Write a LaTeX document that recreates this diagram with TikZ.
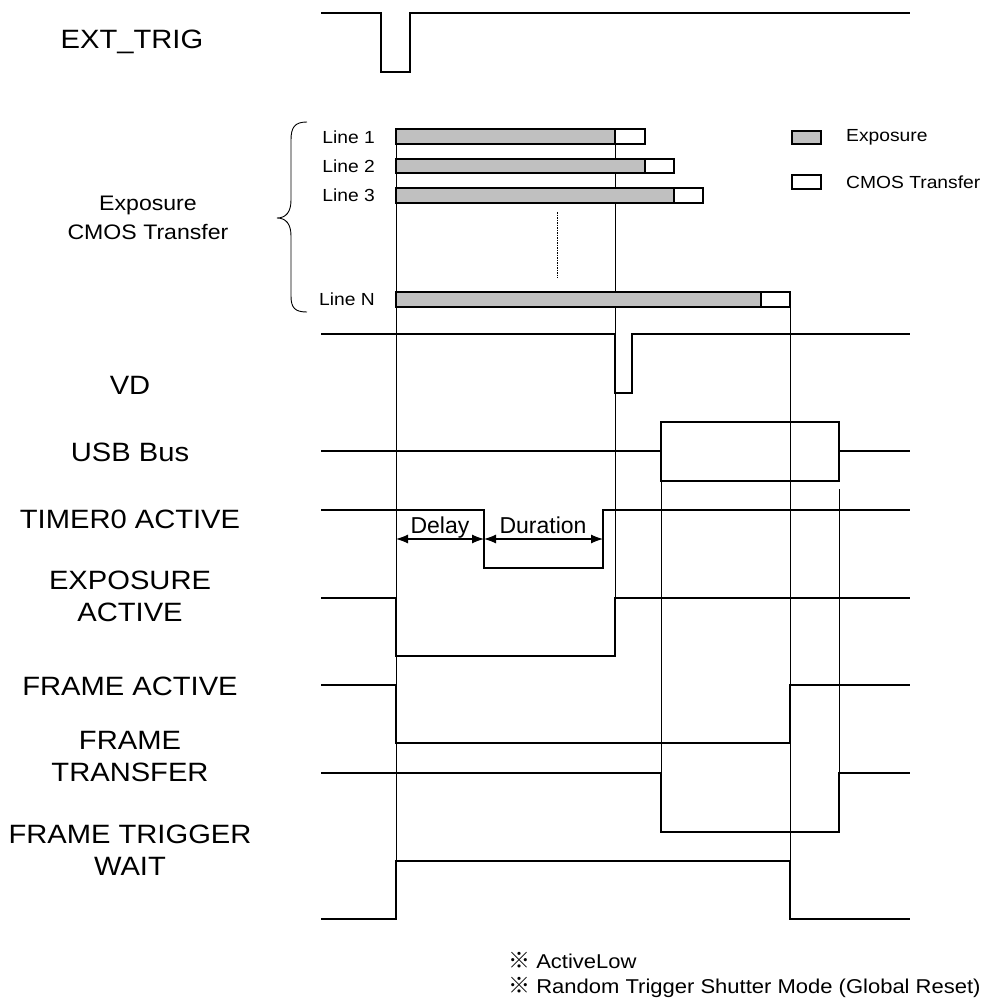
\documentclass[tikz,border=0pt]{standalone}
\usepackage{fontspec}
\setmainfont{Liberation Sans}[FakeStretch=1.1]
\newfontfamily\plainsans{Liberation Sans}
\newfontfamily\cjk{Noto Sans CJK JP}
\usetikzlibrary{arrows.meta}
\definecolor{expgray}{RGB}{192,192,192}

\begin{document}
\begin{tikzpicture}[x=1pt,y=-1pt,line join=miter,
  sig/.style={line width=2.2pt},
  guide/.style={line width=0.9pt},
  bar/.style={line width=1.3pt},
  siglabel/.style={font=\fontsize{26.5}{32}\selectfont,align=center,inner sep=0pt},
  linelabel/.style={font=\fontsize{17.5}{21}\selectfont,inner sep=0pt},
  dim/.style={line width=1.1pt,{Latex[length=12pt,width=9pt]}-{Latex[length=12pt,width=9pt]}}]
\useasboundingbox (0,0) rectangle (993,1006);
% guide lines
\draw[guide] (396,129) -- (396,861);
\draw[guide] (615,129) -- (615,656);
\draw[guide] (661,481) -- (661,832);
\draw[guide] (790,307) -- (790,919);
\draw[guide] (839,489) -- (839,832);
\draw[line width=1pt,dash pattern=on 1.5pt off 1pt] (557,212) -- (557,278);
% exposure / transfer bars
\draw[bar,fill=expgray] (396,129) rectangle (615,144);
\draw[bar,fill=white] (615,129) rectangle (645,144);
\draw[bar,fill=expgray] (396,159) rectangle (645,173);
\draw[bar,fill=white] (645,159) rectangle (674,173);
\draw[bar,fill=expgray] (396,188) rectangle (674,203);
\draw[bar,fill=white] (674,188) rectangle (703,203);
\draw[bar,fill=expgray] (396,292) rectangle (761,307);
\draw[bar,fill=white] (761,292) rectangle (790,307);
\node[linelabel,anchor=east] (l1) at (375,137) {Line 1};
\node[linelabel,anchor=east] (l2) at (375,166) {Line 2};
\node[linelabel,anchor=east] (l3) at (375,195) {Line 3};
\node[linelabel,anchor=east] (ln) at (375,299) {Line N};
% legend
\draw[bar,fill=expgray] (792,131) rectangle (821,144);
\draw[bar,fill=white] (792,175) rectangle (821,189);
\node[linelabel,anchor=west] (legexp) at (846,137) {Exposure};
\node[linelabel,anchor=west] (legcmos) at (846,182) {CMOS Transfer};
% brace
\draw[line width=0.9pt] (307,122) .. controls (295,122) and (291,127) .. (291,140) -- (291,200)
  .. controls (291,212) and (286,218) .. (277,218) .. controls (286,218) and (291,224) .. (291,236)
  -- (291,296) .. controls (291,308) and (295,312) .. (307,312);
% signals
\draw[sig] (321,13) -- (381,13) -- (381,72) -- (410,72) -- (410,13) -- (910,13);
\draw[sig] (321,334) -- (615,334) -- (615,393) -- (632,393) -- (632,334) -- (910,334);
\draw[sig] (321,451) -- (661,451);
\draw[sig] (839,451) -- (910,451);
\draw[sig] (661,422) rectangle (839,481);
\draw[sig] (321,510) -- (484,510) -- (484,568) -- (603,568) -- (603,510) -- (910,510);
\draw[sig] (321,598) -- (396,598) -- (396,656) -- (615,656) -- (615,598) -- (910,598);
\draw[sig] (321,685) -- (396,685) -- (396,743) -- (790,743) -- (790,685) -- (910,685);
\draw[sig] (321,773) -- (661,773) -- (661,832) -- (839,832) -- (839,773) -- (910,773);
\draw[sig] (321,919) -- (396,919) -- (396,861) -- (790,861) -- (790,919) -- (910,919);
% delay / duration
\coordinate (t0) at (396,539);
\coordinate (t1) at (484,539);
\coordinate (t2) at (603,539);
\draw[dim] (t0) -- (t1);
\draw[dim] (t1) -- (t2);
\node[font=\plainsans\fontsize{23}{26}\selectfont,anchor=base] (delay) at (440,533) {Delay};
\node[font=\plainsans\fontsize{23}{26}\selectfont,anchor=base] (duration) at (543,533) {Duration};
% signal names
\node[siglabel] (exttrig) at (132,42) {EXT\_TRIG};
\node[siglabel,font=\fontsize{21}{29}\selectfont] (expcmos) at (148,218) {Exposure\\CMOS Transfer};
\node[siglabel] (vd) at (130,385) {VD};
\node[siglabel] (usb) at (130,452) {USB Bus};
\node[siglabel] (timer) at (130,519) {TIMER0 ACTIVE};
\node[siglabel] (expact) at (130,596) {EXPOSURE\\ACTIVE};
\node[siglabel] (frameact) at (130,686) {FRAME ACTIVE};
\node[siglabel] (frametr) at (130,757) {FRAME\\TRANSFER};
\node[siglabel] (ftw) at (130,850) {FRAME TRIGGER\\WAIT};
% notes
\node[font=\fontsize{20}{24}\selectfont,anchor=west,inner sep=0pt] (note1) at (508,960) {{\cjk\fontsize{22}{24}\selectfont ※} ActiveLow};
\node[font=\fontsize{20}{24}\selectfont,anchor=west,inner sep=0pt] (note2) at (508,987) {{\cjk\fontsize{22}{24}\selectfont ※} Random Trigger Shutter Mode (Global Reset)};
\end{tikzpicture}
\end{document}
